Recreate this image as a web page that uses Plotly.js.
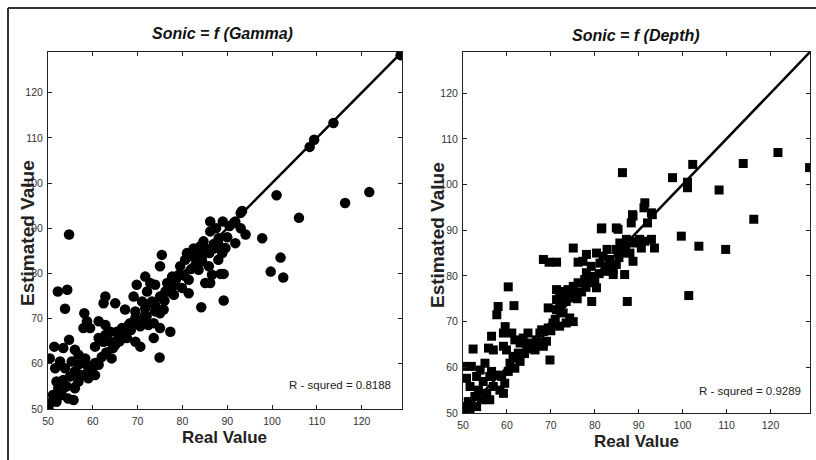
<!DOCTYPE html>
<html>
<head>
<meta charset="utf-8">
<script src="https://cdn.plot.ly/plotly-3.0.1.min.js"></script>
<style>html,body{margin:0;padding:0;background:#fff;}#chart{width:816px;height:460px;}</style>
</head>
<body>
<div id="chart"></div>
<script>
// ---- Data ----
var titles = ["Sonic = f (Gamma)", "Sonic = f (Depth)"];
var xTitle = "Real Value";
var yTitle = "Estimated Value";
var rsqLabels = ["R - squred = 0.8188", "R - squred = 0.9289"];
var tickValues = [50, 60, 70, 80, 90, 100, 110, 120];
var axisRange = [50, 129];
var diagX = [50, 129];
var diagY = [50, 129];

// Sonic = f(Gamma): real values
var gammaReal = [54.7,97.8,93.3,91.5,93,94.1,91.8,86.2,88.1,89.6,88.9,84.7,85.1,83.3,82.1,80.6,79.5,84.4,85.9,83.6,86.6,85.1,86.2,88.5,89.2,89.2,84.2,79.2,81.4,79.9,81.4,78.4,75.4,75.0,77.7,76.6,78.1,76.2,71.7,72.8,69.8,72.1,73.9,75.0,69.1,71,73.2,71.7,73.9,67.2,69.5,71.7,73.9,75.8,75,69.5,71.7,68.3,70.6,72.4,73.6,75,77.3,73.6,67.6,69.5,70.6,74.9,62.8,62.4,65,58.1,58.7,57.9,59.4,61.3,62.8,63.9,62.8,65.4,66.5,68,65.7,63.9,65,62.4,61.3,60.5,64.2,52.2,54.3,53.8,54.7,51.4,53.4,56,56.8,58.3,50.4,52.7,55.3,56.8,58.7,59.8,61.3,51.6,53.8,56,57.9,60.5,51.9,53.4,54.9,56.8,59,52.3,54.2,56,51.1,53.1,54.5,50.4,51.9,50.1,55.7,
  99.7,101.9,102.5,101,106,116.3,121.7,108.4,109.4,113.7,128.7,93,86.2,91.8,90.5,
  81,82.5,84,87,88,90,87.5,89,
  57,59,60.5,62,63,64.5,66,67,68.5,70,72,74,76,77,78.5,80.5,82,83,84.5,86,87,88];
// Sonic = f(Gamma): estimated values
var gammaEst = [88.6,87.8,93.8,91.2,90,88.6,86.7,89.3,87.8,85.6,84.5,87.1,85.6,84.5,83.8,83,81.6,82.7,81.6,80.8,79.7,77.9,77.9,79.9,79.9,74,72.5,79.7,78.6,76.8,75.6,77.5,84.1,81.6,79.3,77.9,75.3,76,79.3,77.9,77.5,76,77.5,74.9,74.9,73.8,73.8,72.3,73.1,72,71.6,70.8,71.6,72,71.2,70.1,69.7,69,68.3,68.6,69,67.9,67.1,65.7,65.7,64.9,63.8,61.4,74.9,73.4,73.4,71.2,69.4,67.9,67.9,69.4,68.6,67.1,66.4,67.1,67.9,68.6,65.7,64.9,64.2,64.9,65.7,63.8,61.2,76,76.4,72.2,65.3,63.8,63.5,63.1,62,61.2,61.2,60.5,60.5,59.8,59.8,59,59.8,59,59,58.3,57.5,57.5,56.1,56.4,57.2,56.1,56.8,54.6,55,54.6,53.1,53.1,52.3,51.3,51.6,50.1,52,
  80.4,83.5,79.1,97.3,92.3,95.6,98,108,109.6,113.3,128.3,93.4,91.5,91.5,90.5,
  84.5,85.5,86,86.5,83,88,90,91.5,
  57.5,58.5,60.2,61.5,62.5,63.5,65,66.5,67.5,69,70.5,72.5,74,76,78.5,79.5,81,82,84,84.5,85.5,86.5];

// Sonic = f(Depth): real values
var depthReal = [91.4,92.9,88.7,88.3,81.5,85.3,99.7,101.4,92.9,93.6,91.4,90.2,88.7,90.6,87.2,85.7,84.9,86.4,88,88.7,82.8,80.4,81.9,83.4,81.2,82.7,84.2,84.9,86.8,87.4,84.2,75.1,77.3,76.2,68.3,69.6,71.3,78.1,79.2,78.1,79.6,77.7,78.9,80.4,76.2,75.1,73.9,72,71.3,72.8,74.3,75.8,73.5,72,71.3,79.3,71.3,72.8,74.3,75.1,73.5,72,70.5,69.4,68.3,69.4,60.3,61.6,58,57.7,52.3,55.8,56.9,56.5,59.2,61.1,59.6,59.2,59.9,61.8,63,63.7,64.8,64.5,65.6,66.7,67.5,66.4,68.3,69,67.9,69.8,61.4,62.6,60.7,63,61.8,60.3,58.8,59.5,58.4,59.2,56.9,50.1,51.9,53.9,55,53.1,50.8,54.6,56.1,56.5,57.7,51.6,53.5,55.4,52.7,54.2,51.2,56.1,50.1,51.6,53.1,50.5,
  86.3,102.3,97.7,101.1,101.1,108.3,113.8,121.7,128.9,116.2,91.2,88.6,93.1,92,81.6,84.9,109.8,103.7,
  62,64,65.5,67,70,71,76,77,78,80,81,82.5,83.5,85.5,87,89.5,86];
// Sonic = f(Depth): estimated values
var depthEst = [96,93.8,93.1,91.6,90.3,90.2,88.7,75.7,88,86.1,87.6,88,87.2,86.1,88,87.2,85.8,85,85,83.2,85.8,85,84.3,83.6,82.8,82.1,81.4,82.5,80.3,74.4,80.3,86.1,83.2,83,83.6,83,83,84.7,82.1,80.7,79.9,79.2,78.5,77.4,78.5,77.7,77,76.6,77,75.5,75.2,76.3,74.4,73.7,74.8,74.4,72.6,71.9,70.8,70,69.7,69,69.7,68.6,67.8,73,77.6,73.5,73.3,71.5,64,64.2,63.8,66.8,67.5,67.5,68.9,64.6,63.8,66,65.3,66.4,67.5,64.6,65.3,66,67.5,63.8,64.6,65.7,68.2,61.6,62.4,63.1,60.9,61.3,59.8,59.1,58,56.5,55,54.3,55.8,60.2,60.2,59.4,60.9,58,57.6,56.9,58,59.1,58.3,55.8,55,54.3,53.6,52.9,52.5,52.9,51.4,51,51.4,50.3,
  102.6,104.4,101.5,100.5,99.3,98.8,104.6,107,103.7,92.4,94.9,93.4,93.4,91.6,90.5,90.5,85.8,86.5,
  62,63,64,65.5,68,70.5,75,76.5,77.5,79,80.5,81,82.5,84,86.5,87.5,86];

// ---- Layout helpers ----
var W = 816, H = 460;
function px(x){ return x / W; }
function py(y){ return 1 - y / H; }
var SANS = "'Liberation Sans', Arial, sans-serif";

function axisDef(domain, anchor){
  return {
    domain: domain, anchor: anchor, range: axisRange, autorange: false,
    tickmode: 'array', tickvals: tickValues, ticktext: tickValues.map(String),
    ticks: 'inside', ticklen: 4, tickwidth: 1, tickcolor: '#222',
    showline: true, linecolor: '#222', linewidth: 1, mirror: 'ticks',
    showgrid: false, zeroline: false, ticklabelstandoff: 2,
    tickfont: {family: SANS, size: 10.5, color: '#333'}
  };
}

var traces = [
  {x: gammaReal, y: gammaEst, xaxis: 'x', yaxis: 'y', type: 'scatter', mode: 'markers',
   marker: {symbol: 'circle', size: 10.5, color: '#000'}, hoverinfo: 'skip', cliponaxis: true},
  {x: diagX, y: diagY, xaxis: 'x', yaxis: 'y', type: 'scatter', mode: 'lines',
   line: {color: '#000', width: 2.5}, hoverinfo: 'skip'},
  {x: depthReal, y: depthEst, xaxis: 'x2', yaxis: 'y2', type: 'scatter', mode: 'markers',
   marker: {symbol: 'square', size: 9, color: '#000'}, hoverinfo: 'skip', cliponaxis: true},
  {x: diagX, y: diagY, xaxis: 'x2', yaxis: 'y2', type: 'scatter', mode: 'lines',
   line: {color: '#000', width: 2.5}, hoverinfo: 'skip'}
];

function ann(text, x, y, opts){
  var a = {text: text, x: px(x), y: py(y), xref: 'paper', yref: 'paper', showarrow: false,
           xanchor: 'center', yanchor: 'middle'};
  for (var k in opts) a[k] = opts[k];
  return a;
}

var layout = {
  width: W, height: H, margin: {l: 0, r: 0, t: 0, b: 0},
  paper_bgcolor: '#fff', plot_bgcolor: '#fff', showlegend: false,
  xaxis: axisDef([px(48), px(402)], 'y'),
  yaxis: axisDef([py(409), py(52)], 'x'),
  xaxis2: axisDef([px(463), px(810)], 'y2'),
  yaxis2: axisDef([py(413), py(52)], 'x2'),
  annotations: [
    ann('<b><i>' + titles[0] + '</i></b>', 223, 33, {font: {family: SANS, size: 16, color: '#111'}}),
    ann('<b><i>' + titles[1] + '</i></b>', 636, 35, {font: {family: SANS, size: 16, color: '#111'}}),
    ann('<b>' + xTitle + '</b>', 224, 437, {font: {family: SANS, size: 17, color: '#222'}}),
    ann('<b>' + xTitle + '</b>', 636, 441, {font: {family: SANS, size: 17, color: '#222'}}),
    ann('<b>' + yTitle + '</b>', 28, 233, {textangle: -90, font: {family: SANS, size: 19, color: '#222'}}),
    ann('<b>' + yTitle + '</b>', 437, 235, {textangle: -90, font: {family: SANS, size: 19, color: '#222'}}),
    ann(rsqLabels[0], 393, 385, {xanchor: 'right', font: {family: SANS, size: 11.5, color: '#222'}}),
    ann(rsqLabels[1], 803, 391, {xanchor: 'right', font: {family: SANS, size: 11.5, color: '#222'}})
  ],
  shapes: [
    {type: 'line', xref: 'paper', yref: 'paper', x0: px(8), y0: py(8), x1: 1.01, y1: py(8),
     line: {color: '#333', width: 2}},
    {type: 'line', xref: 'paper', yref: 'paper', x0: px(8), y0: py(8), x1: px(8), y1: -0.01,
     line: {color: '#333', width: 2}}
  ]
};

Plotly.newPlot('chart', traces, layout, {staticPlot: true, displayModeBar: false});
</script>
</body>
</html>
